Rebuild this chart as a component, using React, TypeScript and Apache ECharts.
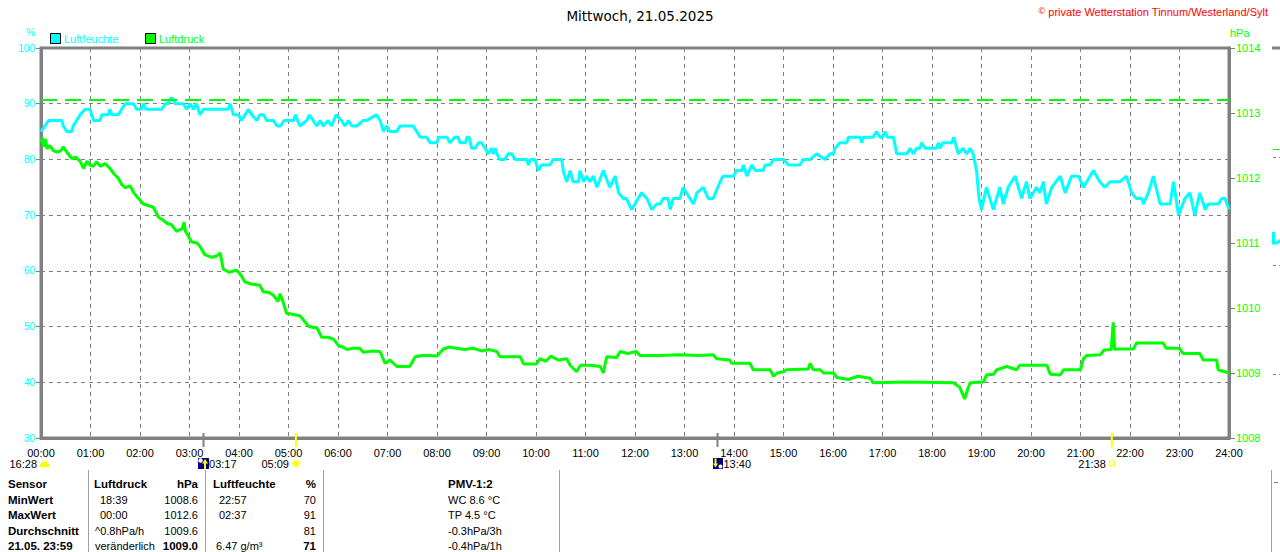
import React, { useEffect, useRef } from "react";
import * as echarts from "echarts";

const FONT = "Liberation Sans, Arial, sans-serif";

const hourLabels = [
  "00:00", "01:00", "02:00", "03:00", "04:00", "05:00", "06:00", "07:00", "08:00",
  "09:00", "10:00", "11:00", "12:00", "13:00", "14:00", "15:00", "16:00", "17:00",
  "18:00", "19:00", "20:00", "21:00", "22:00", "23:00", "24:00",
];

// Luftfeuchte (%), [hour, value]
const humidity: [number, number][] = [
  [0, 85], [0.08, 86], [0.15, 87], [0.42, 87], [0.45, 86], [0.52, 85], [0.62, 85], [0.65, 86], [0.72, 87],
  [0.79, 88], [0.89, 89], [0.99, 89], [1.06, 87], [1.19, 87], [1.23, 88], [1.36, 88], [1.39, 89], [1.43, 88],
  [1.56, 88], [1.63, 89], [1.7, 90], [1.87, 90], [1.93, 89], [2.03, 89], [2.07, 90], [2.12, 89], [2.44, 89],
  [2.51, 90], [2.57, 90], [2.62, 91], [2.66, 91], [2.71, 90], [2.88, 90], [2.94, 89], [3.01, 90], [3.08, 89],
  [3.14, 90], [3.21, 88], [3.28, 89], [3.35, 89], [3.78, 89], [3.82, 90], [3.89, 88], [3.99, 88], [4.05, 87],
  [4.12, 88], [4.19, 89], [4.26, 88], [4.36, 87], [4.42, 88], [4.5, 88], [4.56, 87], [4.69, 87], [4.77, 86],
  [4.84, 86], [4.91, 87], [5.1, 87], [5.14, 88], [5.23, 86], [5.37, 87], [5.42, 88], [5.5, 87], [5.57, 86],
  [5.64, 87], [5.7, 86], [5.8, 87], [5.87, 86], [5.96, 88], [6.07, 87], [6.14, 86], [6.21, 87], [6.28, 86],
  [6.38, 86], [6.51, 87], [6.58, 87], [6.78, 88], [6.85, 87], [6.92, 85], [6.98, 86], [7.05, 85], [7.19, 85],
  [7.25, 86], [7.52, 86], [7.59, 85], [7.66, 84], [7.79, 84], [7.86, 83], [8.0, 83], [8.03, 84], [8.2, 84],
  [8.26, 83], [8.36, 84], [8.43, 84], [8.46, 83], [8.58, 83], [8.6, 84], [8.65, 84], [8.7, 82], [8.77, 82],
  [8.84, 83], [8.9, 83], [8.97, 82], [9.04, 81], [9.1, 82], [9.14, 81], [9.18, 82], [9.21, 81], [9.27, 80],
  [9.37, 80], [9.44, 81], [9.51, 81], [9.58, 80], [9.81, 80], [9.85, 79], [9.88, 80], [9.98, 80], [10.05, 78],
  [10.11, 79], [10.28, 79], [10.35, 80], [10.52, 80], [10.55, 78], [10.62, 76], [10.69, 78], [10.75, 76],
  [10.86, 76], [10.89, 78], [10.96, 76], [11.02, 77], [11.09, 76], [11.16, 77], [11.23, 75], [11.36, 78],
  [11.49, 75], [11.6, 77], [11.67, 74], [11.76, 73], [11.83, 73], [11.93, 71], [12.0, 72], [12.13, 74],
  [12.24, 73], [12.34, 71], [12.44, 72], [12.51, 72], [12.57, 73], [12.67, 73], [12.71, 71], [12.77, 73],
  [12.91, 73], [12.97, 75], [13.04, 74], [13.18, 72], [13.25, 74], [13.38, 75], [13.48, 73], [13.58, 73],
  [13.72, 76], [13.78, 77], [13.99, 77], [14.05, 78], [14.16, 78], [14.19, 79], [14.26, 77], [14.36, 79],
  [14.43, 78], [14.59, 78], [14.63, 79], [14.73, 79], [14.8, 80], [15.0, 80], [15.1, 79], [15.33, 79],
  [15.4, 80], [15.54, 80], [15.67, 81], [15.84, 80], [15.94, 81], [16.01, 81], [16.04, 82], [16.14, 83],
  [16.28, 83], [16.31, 84], [16.55, 84], [16.58, 83], [16.61, 84], [16.81, 84], [16.88, 85], [16.95, 84],
  [17.0, 84], [17.05, 85], [17.1, 84], [17.22, 84], [17.29, 81], [17.49, 81], [17.56, 82], [17.62, 81],
  [17.69, 82], [17.76, 82], [17.79, 83], [17.86, 82], [18.09, 82], [18.13, 83], [18.16, 82], [18.22, 83],
  [18.4, 83], [18.44, 84], [18.53, 81], [18.63, 82], [18.7, 81], [18.77, 82], [18.83, 81], [18.9, 78],
  [18.95, 73], [19.0, 71], [19.1, 75], [19.24, 71], [19.37, 75], [19.44, 72], [19.54, 75], [19.68, 77],
  [19.81, 73], [19.91, 76], [19.98, 73], [20.11, 75], [20.18, 74], [20.25, 76], [20.31, 72], [20.42, 75],
  [20.59, 77], [20.69, 74], [20.82, 77], [20.96, 77], [21.06, 75], [21.26, 78], [21.39, 76], [21.49, 75],
  [21.6, 76], [21.8, 76], [21.93, 77], [22.03, 74], [22.13, 73], [22.24, 73], [22.27, 72], [22.37, 74],
  [22.47, 77], [22.61, 72], [22.81, 72], [22.88, 76], [22.98, 70], [23.11, 73], [23.21, 74], [23.31, 70],
  [23.41, 74], [23.52, 71], [23.58, 72], [23.79, 72], [23.85, 73], [23.92, 73], [24.0, 71],
];

// Luftdruck (hPa), [hour, value]
const pressure: [number, number][] = [
  [0, 1012.55], [0.03, 1012.62], [0.06, 1012.48], [0.09, 1012.6], [0.12, 1012.45], [0.18, 1012.5],
  [0.25, 1012.42], [0.32, 1012.4], [0.4, 1012.42], [0.45, 1012.48], [0.52, 1012.4], [0.62, 1012.3],
  [0.7, 1012.32], [0.79, 1012.26], [0.86, 1012.15], [0.93, 1012.26], [0.99, 1012.2], [1.06, 1012.18],
  [1.12, 1012.25], [1.2, 1012.18], [1.3, 1012.22], [1.39, 1012.15], [1.49, 1012.05], [1.56, 1012.0],
  [1.63, 1011.9], [1.7, 1011.85], [1.8, 1011.88], [1.87, 1011.78], [1.93, 1011.72], [2.0, 1011.66],
  [2.07, 1011.6], [2.15, 1011.58], [2.27, 1011.55], [2.37, 1011.4], [2.47, 1011.35], [2.55, 1011.3],
  [2.64, 1011.28], [2.74, 1011.18], [2.85, 1011.22], [2.89, 1011.32], [2.92, 1011.18], [3.04, 1011.02],
  [3.15, 1011.0], [3.21, 1010.95], [3.31, 1010.82], [3.45, 1010.78], [3.55, 1010.8], [3.62, 1010.85],
  [3.68, 1010.6], [3.8, 1010.55], [3.95, 1010.58], [4.02, 1010.53], [4.12, 1010.4], [4.25, 1010.37],
  [4.42, 1010.35], [4.49, 1010.25], [4.6, 1010.24], [4.69, 1010.2], [4.79, 1010.1], [4.83, 1010.22],
  [4.88, 1010.12], [4.96, 1009.92], [5.1, 1009.9], [5.23, 1009.88], [5.32, 1009.8], [5.4, 1009.72],
  [5.5, 1009.7], [5.57, 1009.7], [5.67, 1009.55], [5.8, 1009.55], [5.91, 1009.52], [6.01, 1009.42],
  [6.1, 1009.4], [6.18, 1009.36], [6.3, 1009.38], [6.44, 1009.38], [6.51, 1009.32], [6.7, 1009.34],
  [6.85, 1009.33], [6.95, 1009.15], [7.05, 1009.2], [7.19, 1009.1], [7.45, 1009.1], [7.56, 1009.25],
  [7.7, 1009.27], [7.86, 1009.27], [8.0, 1009.26], [8.13, 1009.37], [8.25, 1009.4], [8.4, 1009.38],
  [8.55, 1009.36], [8.73, 1009.38], [8.9, 1009.34], [9.05, 1009.36], [9.21, 1009.33], [9.27, 1009.25],
  [9.68, 1009.25], [9.75, 1009.14], [10.01, 1009.14], [10.08, 1009.22], [10.2, 1009.18], [10.3, 1009.26],
  [10.45, 1009.2], [10.62, 1009.22], [10.69, 1009.12], [10.82, 1009.02], [10.9, 1009.12], [11.1, 1009.12],
  [11.3, 1009.1], [11.36, 1009.0], [11.4, 1009.15], [11.43, 1009.25], [11.63, 1009.24], [11.7, 1009.33],
  [11.85, 1009.3], [12.03, 1009.33], [12.1, 1009.27], [12.5, 1009.27], [12.9, 1009.28], [13.3, 1009.27],
  [13.58, 1009.28], [13.65, 1009.22], [13.92, 1009.2], [13.95, 1009.15], [14.32, 1009.15], [14.39, 1009.05],
  [14.73, 1009.05], [14.8, 1008.95], [14.87, 1009.0], [15.0, 1009.02], [15.06, 1009.05], [15.5, 1009.06],
  [15.54, 1009.15], [15.6, 1009.05], [15.74, 1009.05], [15.81, 1009.0], [16.01, 1009.0], [16.08, 1008.93],
  [16.31, 1008.9], [16.5, 1008.95], [16.75, 1008.92], [16.81, 1008.85], [17.5, 1008.86], [18.43, 1008.85],
  [18.56, 1008.78], [18.66, 1008.6], [18.72, 1008.75], [18.77, 1008.85], [19.04, 1008.86], [19.1, 1008.97],
  [19.24, 1008.98], [19.31, 1009.05], [19.51, 1009.1], [19.71, 1009.05], [19.77, 1009.12], [20.32, 1009.12],
  [20.39, 1008.98], [20.59, 1008.97], [20.66, 1009.05], [21.0, 1009.05], [21.06, 1009.22], [21.13, 1009.27],
  [21.4, 1009.28], [21.47, 1009.35], [21.62, 1009.36], [21.66, 1009.78], [21.69, 1009.36], [21.74, 1009.37],
  [22.07, 1009.37], [22.13, 1009.46], [22.67, 1009.46], [22.73, 1009.38], [23.0, 1009.38], [23.07, 1009.3],
  [23.41, 1009.3], [23.48, 1009.2], [23.75, 1009.2], [23.78, 1009.05], [24.0, 1009.0],
];

const pressureReference = 1013.2;

const events = [
  { time: "03:17", kind: "moonrise" },
  { time: "05:09", kind: "sunrise" },
  { time: "13:40", kind: "moonset" },
  { time: "21:38", kind: "sunset" },
];
const previousEventTime = "16:28";

const tableRowLabels = ["Sensor", "MinWert", "MaxWert", "Durchschnitt", "21.05. 23:59"];
const pressureInfo = ["Luftdruck", "18:39", "00:00", "^0.8hPa/h", "veränderlich"];
const pressureValues = ["hPa", "1008.6", "1012.6", "1009.6", "1009.0"];
const humidityInfo = ["Luftfeuchte", "22:57", "02:37", "", "6.47 g/m³"];
const humidityValues = ["%", "70", "91", "81", "71"];
const pmvInfo = ["PMV-1:2", "WC 8.6 °C", "TP 4.5 °C", "-0.3hPa/3h", "-0.4hPa/1h"];

const CYAN = "#00ffff";
const GREEN = "#00ff00";
const GRAY = "#808080";
const YELLOW = "#ffff00";
const NAVY = "#000080";

function toHour(s: string) {
  const [h, m] = s.split(":").map(Number);
  return h + m / 60;
}

function txt(text: string, x: number, y: number, opts: any = {}) {
  return {
    type: "text",
    silent: true,
    z: 100,
    style: {
      text,
      x,
      y,
      fill: opts.fill || "#000",
      fontSize: opts.fontSize || 11,
      fontFamily: opts.fontFamily || FONT,
      fontWeight: opts.bold ? "bold" : "normal",
      align: opts.align || "left",
      verticalAlign: "middle",
    },
  };
}

function moonrise(cx: number, cy: number) {
  return [
    { type: "rect", z: 100, shape: { x: cx - 5.5, y: cy - 5.5, width: 11, height: 11 }, style: { fill: NAVY } },
    { type: "circle", z: 101, shape: { cx: cx - 3, cy: cy - 3, r: 2.2 }, style: { fill: "#fff" } },
    {
      type: "polygon", z: 101,
      shape: { points: [[cx + 0.5, cy + 5.5], [cx + 0.5, cy], [cx - 1.5, cy], [cx + 1.5, cy - 4.5], [cx + 4.5, cy], [cx + 2.5, cy], [cx + 2.5, cy + 5.5]] },
      style: { fill: YELLOW },
    },
  ];
}

function moonset(cx: number, cy: number) {
  return [
    { type: "rect", z: 100, shape: { x: cx - 4.5, y: cy - 5.5, width: 10, height: 11 }, style: { fill: NAVY } },
    { type: "circle", z: 101, shape: { cx: cx + 3, cy: cy + 3, r: 2 }, style: { fill: "#fff" } },
    {
      type: "polygon", z: 101,
      shape: { points: [[cx - 3, cy - 5], [cx - 3, cy], [cx - 4.5, cy], [cx - 2, cy + 4], [cx + 0.5, cy], [cx - 1, cy], [cx - 1, cy - 5]] },
      style: { fill: YELLOW },
    },
  ];
}

function sunrise(cx: number, cy: number) {
  const rays: any[] = [];
  for (let i = 0; i < 8; i++) {
    const a = (i * Math.PI) / 4;
    rays.push({
      type: "line", z: 100,
      shape: { x1: cx + Math.cos(a) * 3.5, y1: cy + Math.sin(a) * 3.5, x2: cx + Math.cos(a) * 5.5, y2: cy + Math.sin(a) * 5.5 },
      style: { stroke: "#ffff80", lineWidth: 1 },
    });
  }
  return [...rays, { type: "circle", z: 101, shape: { cx, cy, r: 3.3 }, style: { fill: YELLOW } }];
}

function sunset(cx: number, cy: number) {
  return [
    { type: "rect", z: 100, shape: { x: cx - 2.5, y: cy - 2.5, width: 5, height: 5 }, style: { fill: "#fff", stroke: YELLOW, lineWidth: 1.2 } },
  ];
}

function dome(cx: number, cy: number) {
  return [
    { type: "sector", z: 100, shape: { cx, cy: cy + 2.5, r0: 0, r: 4.7, startAngle: Math.PI, endAngle: Math.PI * 2, clockwise: true }, style: { fill: YELLOW } },
    { type: "rect", z: 100, shape: { x: cx - 4.7, y: cy + 2, width: 9.4, height: 1.5 }, style: { fill: YELLOW } },
  ];
}

function buildGraphic(chart: any) {
  const g: any[] = [];
  const px = (h: number) => chart.convertToPixel({ xAxisIndex: 0 }, h) as number;
  const axisY = chart.convertToPixel({ yAxisIndex: 0 }, 30) as number;
  const topY = chart.convertToPixel({ yAxisIndex: 0 }, 100) as number;
  const x0 = px(0);
  const x24 = px(24);
  const rowY = axisY + 25.5;

  // title & copyright
  g.push(txt("Mittwoch, 21.05.2025", 640, 16, { fontSize: 13.5, fontFamily: "DejaVu Sans, sans-serif", align: "center" }));
  g.push({
    type: "text", z: 100,
    style: {
      text: "{c|©} private Wetterstation Tinnum/Westerland/Sylt",
      x: 1268, y: 12, align: "right", verticalAlign: "middle",
      fill: "#ff0000", fontSize: 11, fontFamily: FONT,
      rich: { c: { fontSize: 9, fill: "#ff0000", verticalAlign: "top", padding: [0, 0, 3, 0] } },
    },
  });

  // axis unit labels
  g.push(txt("%", x0 - 15, topY - 16, { fill: CYAN, fontSize: 10 }));
  g.push(txt("hPa", x24 + 1, topY - 15, { fill: GREEN, fontSize: 11 }));

  // legend
  g.push({ type: "rect", z: 100, shape: { x: 50.5, y: 33.5, width: 10, height: 10 }, style: { fill: CYAN, stroke: "#000", lineWidth: 1 } });
  g.push(txt("Luftfeuchte", 64, 38.5, { fill: CYAN }));
  g.push({ type: "rect", z: 100, shape: { x: 145.5, y: 33.5, width: 10, height: 10 }, style: { fill: GREEN, stroke: "#000", lineWidth: 1 } });
  g.push(txt("Luftdruck", 159, 38.5, { fill: GREEN }));

  // events below x axis
  events.forEach((ev) => {
    const cx = px(toHour(ev.time));
    const isSun = ev.kind === "sunrise" || ev.kind === "sunset";
    g.push({
      type: "line", z: 90,
      shape: { x1: cx, y1: axisY - 5, x2: cx, y2: axisY + 9 },
      style: { stroke: isSun ? YELLOW : GRAY, lineWidth: 2 },
    });
    if (ev.kind === "moonrise") {
      g.push(...moonrise(cx, rowY));
      g.push(txt(ev.time, cx + 5.5, rowY, {}));
    } else if (ev.kind === "moonset") {
      g.push(...moonset(cx, rowY));
      g.push(txt(ev.time, cx + 6, rowY, {}));
    } else if (ev.kind === "sunrise") {
      g.push(...sunrise(cx, rowY));
      g.push(txt(ev.time, cx - 7, rowY, { align: "right" }));
    } else {
      g.push(...sunset(cx, rowY));
      g.push(txt(ev.time, cx - 6, rowY, { align: "right" }));
    }
  });
  g.push(...dome(x0 + 3.7, rowY));
  g.push(txt(previousEventTime, x0 - 4, rowY, { align: "right" }));

  // table
  const rows = [484, 499.5, 515, 530.5, 545.5];
  [88, 205, 323, 559].forEach((x) => {
    g.push({ type: "line", z: 90, shape: { x1: x + 0.5, y1: 470, x2: x + 0.5, y2: 552 }, style: { stroke: "#a0a0a0", lineWidth: 1 } });
  });
  rows.forEach((y, i) => {
    g.push(txt(tableRowLabels[i], 8, y, { bold: true, fontSize: 11.5 }));
    const pX = i === 0 ? 94 : i < 3 ? 100 : 95;
    g.push(txt(pressureInfo[i], pX, y, { bold: i === 0, fontSize: i === 0 ? 11.5 : 11 }));
    g.push(txt(pressureValues[i], 198, y, { bold: i === 0 || i === 4, fontSize: i === 0 || i === 4 ? 11.5 : 11, align: "right" }));
    const hX = i === 0 ? 213 : i < 3 ? 219 : 216;
    if (humidityInfo[i]) g.push(txt(humidityInfo[i], hX, y, { bold: i === 0, fontSize: i === 0 ? 11.5 : 11 }));
    g.push(txt(humidityValues[i], 316, y, { bold: i === 0 || i === 4, fontSize: i === 0 || i === 4 ? 11.5 : 11, align: "right" }));
    g.push(txt(pmvInfo[i], 448, y, { bold: i === 0, fontSize: i === 0 ? 11.5 : 11 }));
  });

  // cropped neighbouring chart fragments at the right edge
  g.push({ type: "line", z: 90, shape: { x1: 1272, y1: topY, x2: 1280, y2: topY }, style: { stroke: GRAY, lineWidth: 3 } });
  g.push({ type: "line", z: 90, shape: { x1: 1273, y1: 149.5, x2: 1279, y2: 149.5 }, style: { stroke: GREEN, lineWidth: 1 } });
  g.push({ type: "line", z: 90, shape: { x1: 1273, y1: 157.5, x2: 1280, y2: 157.5 }, style: { stroke: GRAY, lineWidth: 1, lineDash: [3, 3] } });
  g.push({ type: "line", z: 90, shape: { x1: 1273, y1: 265.5, x2: 1280, y2: 265.5 }, style: { stroke: GRAY, lineWidth: 1, lineDash: [3, 3] } });
  g.push({ type: "line", z: 90, shape: { x1: 1273, y1: 374.5, x2: 1280, y2: 374.5 }, style: { stroke: GRAY, lineWidth: 1, lineDash: [3, 3] } });
  g.push({ type: "polyline", z: 90, shape: { points: [[1273.5, 232], [1273.5, 243], [1277, 243], [1280, 240]] }, style: { stroke: CYAN, lineWidth: 3, fill: null } });
  g.push({ type: "line", z: 90, shape: { x1: 1271.5, y1: 470, x2: 1271.5, y2: 552 }, style: { stroke: "#a0a0a0", lineWidth: 1 } });
  g.push({ type: "line", z: 90, shape: { x1: 1274, y1: 482.5, x2: 1278, y2: 482.5 }, style: { stroke: GRAY, lineWidth: 1 } });

  return g;
}

const option: any = {
  animation: false,
  backgroundColor: "#ffffff",
  grid: { left: 41, right: 51, top: 48, bottom: 114, show: true, borderColor: GRAY, borderWidth: 3, backgroundColor: "transparent" },
  xAxis: {
    type: "value",
    min: 0,
    max: 24,
    interval: 1,
    axisLine: { show: true, onZero: false, lineStyle: { color: GRAY, width: 3 } },
    axisTick: { show: false },
    splitLine: { show: true, lineStyle: { color: GRAY, width: 1, type: [4, 4] } },
    axisLabel: {
      formatter: (v: number) => hourLabels[Math.round(v)],
      color: "#000",
      fontSize: 11,
      fontFamily: FONT,
      margin: 9,
      showMinLabel: true,
      showMaxLabel: true,
    },
  },
  yAxis: [
    {
      type: "value",
      min: 30,
      max: 100,
      interval: 10,
      position: "left",
      axisLine: { show: true, lineStyle: { color: GRAY, width: 3 } },
      axisTick: { show: true, length: 5, lineStyle: { color: GRAY, width: 1 } },
      axisLabel: { color: CYAN, fontSize: 10, fontFamily: FONT, margin: 6, formatter: (v: number) => String(v) },
      splitLine: { show: true, lineStyle: { color: GRAY, width: 1, type: [4, 4] } },
    },
    {
      type: "value",
      min: 1008,
      max: 1014,
      interval: 1,
      position: "right",
      axisLine: { show: true, lineStyle: { color: GRAY, width: 3 } },
      axisTick: { show: true, length: 6, lineStyle: { color: GRAY, width: 1 } },
      axisLabel: { color: GREEN, fontSize: 11, fontFamily: FONT, margin: 7, formatter: (v: number) => String(v) },
      splitLine: { show: false },
    },
  ],
  series: [
    {
      name: "Luftfeuchte",
      type: "line",
      yAxisIndex: 0,
      data: humidity,
      symbol: "none",
      lineStyle: { color: CYAN, width: 3 },
      itemStyle: { color: CYAN },
      z: 3,
    },
    {
      name: "Luftdruck",
      type: "line",
      yAxisIndex: 1,
      data: pressure,
      symbol: "none",
      lineStyle: { color: GREEN, width: 3 },
      itemStyle: { color: GREEN },
      z: 3,
      markLine: {
        silent: true,
        symbol: ["none", "none"],
        label: { show: false },
        lineStyle: { color: GREEN, width: 2, type: [16, 8] },
        data: [{ yAxis: pressureReference }],
      },
    },
  ],
};

export default function App() {
  const ref = useRef<HTMLDivElement>(null);
  useEffect(() => {
    if (!ref.current) return;
    const chart = echarts.init(ref.current, null, { renderer: "svg" });
    chart.setOption(option);
    chart.setOption({ graphic: buildGraphic(chart) });
    return () => chart.dispose();
  }, []);
  return (
    <div
      ref={ref}
      style={{ position: "absolute", left: 0, top: 0, width: 1280, height: 552, background: "#fff" }}
    />
  );
}
